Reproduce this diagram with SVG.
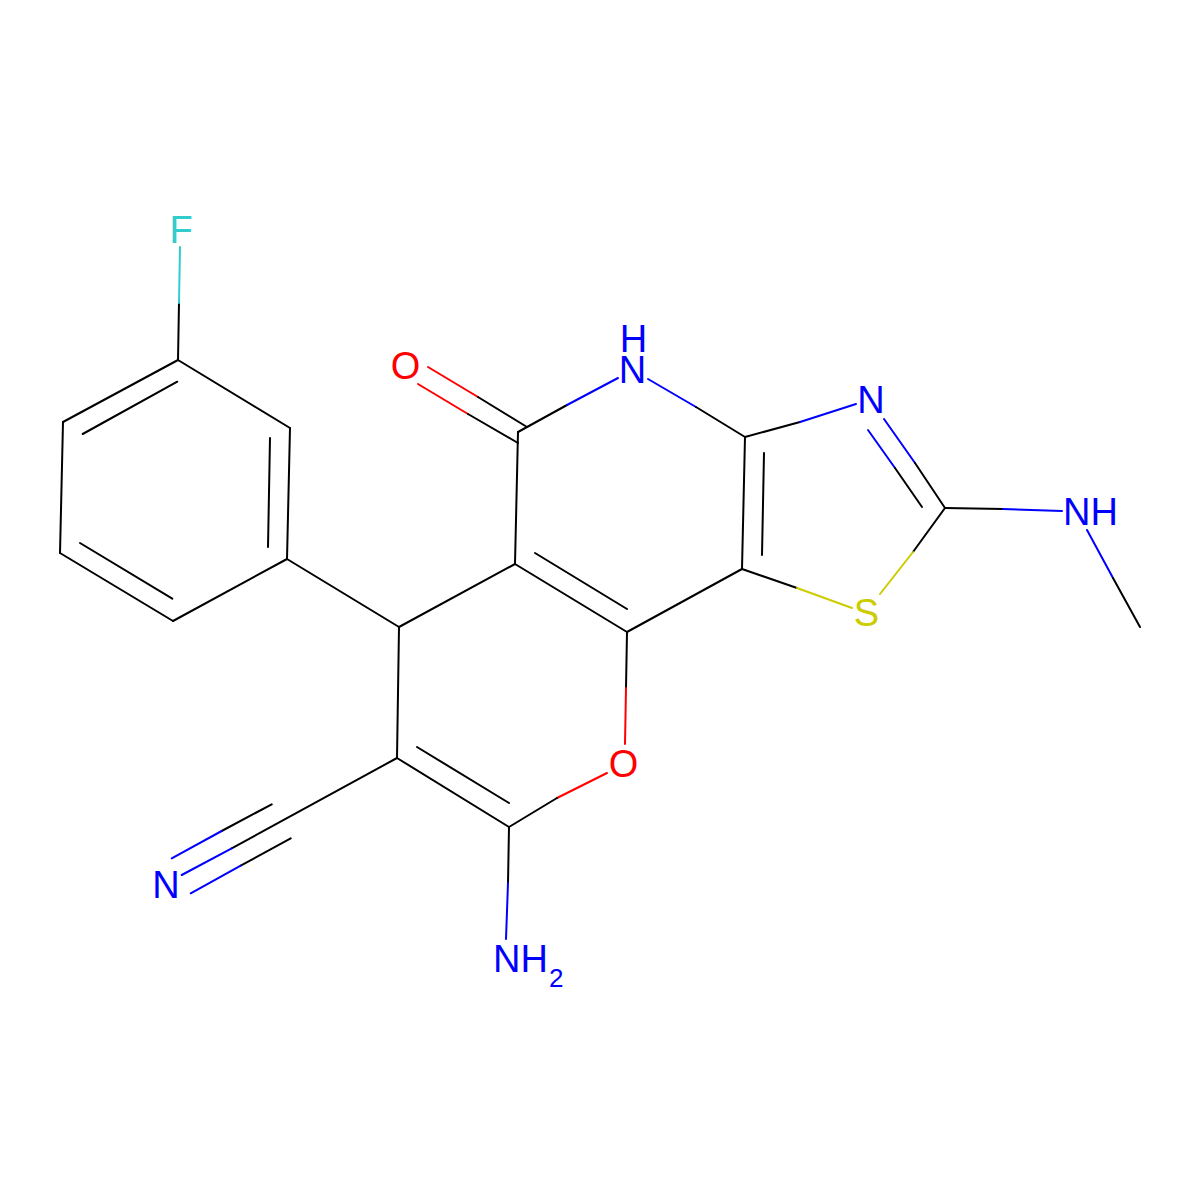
<svg xmlns="http://www.w3.org/2000/svg" width="1200" height="1200" viewBox="0 0 1200 1200">
<style>
line{stroke-width:2;stroke-linecap:round}
.k{stroke:#000}
.n{stroke:#0000FF}
.o{stroke:#FF0000}
.s{stroke:#CCCC00}
.f{stroke:#33CCCC}
text{font-family:"Liberation Sans",Arial,sans-serif;font-size:38px}
.tn{fill:#0000FF}
.to{fill:#FF0000}
.ts{fill:#CCCC00}
.tf{fill:#33CCCC}
</style>
<rect width="1200" height="1200" fill="#fff"/>
<g id="bonds">
<line class="k" x1="178" y1="360" x2="63" y2="422"/>
<line class="k" x1="63" y1="422" x2="60" y2="553"/>
<line class="k" x1="60" y1="553" x2="173" y2="621"/>
<line class="k" x1="173" y1="621" x2="287" y2="559"/>
<line class="k" x1="287" y1="559" x2="290" y2="428"/>
<line class="k" x1="290" y1="428" x2="178" y2="360"/>
<line class="k" x1="82.7" y1="434" x2="177.3" y2="381.7"/>
<line class="k" x1="270" y1="438" x2="268" y2="547"/>
<line class="k" x1="80" y1="543" x2="172.3" y2="598.7"/>
<line class="k" x1="178" y1="360" x2="179" y2="303"/>
<line class="f" x1="179" y1="303" x2="180" y2="247"/>
<line class="k" x1="287" y1="559" x2="399" y2="627"/>
<line class="k" x1="399" y1="627" x2="515" y2="564"/>
<line class="k" x1="399" y1="627" x2="397" y2="758"/>
<line class="k" x1="515" y1="564" x2="518" y2="432"/>
<line class="o" x1="428" y1="367" x2="478" y2="397"/>
<line class="k" x1="478" y1="397" x2="527" y2="427"/>
<line class="o" x1="418" y1="384" x2="468" y2="414"/>
<line class="k" x1="468" y1="414" x2="518" y2="443"/>
<line class="k" x1="518" y1="432" x2="567" y2="405"/>
<line class="n" x1="567" y1="405" x2="618" y2="378"/>
<line class="n" x1="648" y1="379" x2="696" y2="407"/>
<line class="k" x1="696" y1="407" x2="745" y2="437"/>
<line class="k" x1="745" y1="437" x2="742" y2="569"/>
<line class="k" x1="764" y1="453" x2="762" y2="555"/>
<line class="k" x1="745" y1="437" x2="800" y2="422"/>
<line class="n" x1="800" y1="422" x2="856" y2="404"/>
<line class="n" x1="884" y1="419" x2="915" y2="463"/>
<line class="k" x1="915" y1="463" x2="945" y2="508"/>
<line class="n" x1="868" y1="430" x2="895" y2="468"/>
<line class="k" x1="895" y1="468" x2="922" y2="507"/>
<line class="k" x1="945" y1="508" x2="1003" y2="509"/>
<line class="n" x1="1003" y1="509" x2="1062" y2="511"/>
<line class="n" x1="1087" y1="530" x2="1113" y2="578"/>
<line class="k" x1="1113" y1="578" x2="1140" y2="627"/>
<line class="k" x1="945" y1="508" x2="913" y2="552"/>
<line class="s" x1="913" y1="552" x2="880" y2="594"/>
<line class="k" x1="742" y1="569" x2="797" y2="588"/>
<line class="s" x1="797" y1="588" x2="852" y2="608"/>
<line class="k" x1="742" y1="569" x2="627" y2="632"/>
<line class="k" x1="515" y1="564" x2="627" y2="632"/>
<line class="k" x1="535" y1="553" x2="627" y2="609"/>
<line class="k" x1="627" y1="632" x2="626" y2="688"/>
<line class="o" x1="626" y1="688" x2="625" y2="744"/>
<line class="o" x1="607" y1="773" x2="557" y2="798"/>
<line class="k" x1="557" y1="798" x2="509" y2="827"/>
<line class="k" x1="397" y1="758" x2="509" y2="827"/>
<line class="k" x1="417" y1="747" x2="509" y2="803"/>
<line class="k" x1="509" y1="827" x2="508" y2="883"/>
<line class="n" x1="508" y1="883" x2="506" y2="939"/>
<line class="k" x1="397" y1="758" x2="231.7" y2="848.3"/>
<line class="n" x1="231.7" y1="848.3" x2="181.7" y2="875"/>
<line class="k" x1="271.7" y1="804.3" x2="221.7" y2="831"/>
<line class="n" x1="221.7" y1="831" x2="171.7" y2="858.3"/>
<line class="k" x1="290.7" y1="838.3" x2="240.7" y2="865.7"/>
<line class="n" x1="240.7" y1="865.7" x2="190.7" y2="893.3"/>
</g>
<g id="atom-F"><text class="tf" x="181" y="243" text-anchor="middle">F</text></g>
<g id="atom-O-carbonyl"><text class="to" x="405.5" y="379" text-anchor="middle">O</text></g>
<g id="atom-NH-ring"><text class="tn" text-anchor="middle"><tspan x="633.5" y="352">H</tspan><tspan x="632.5" y="383">N</tspan></text></g>
<g id="atom-N-thiazole"><text class="tn" x="871" y="413" text-anchor="middle">N</text></g>
<g id="atom-NH-methyl"><text class="tn" x="1063" y="525">NH</text></g>
<g id="atom-S"><text class="ts" x="866.5" y="626" text-anchor="middle">S</text></g>
<g id="atom-O-ring"><text class="to" x="623.5" y="777" text-anchor="middle">O</text></g>
<g id="atom-N-nitrile"><text class="tn" x="166" y="898" text-anchor="middle">N</text></g>
<g id="atom-NH2"><text class="tn" x="493" y="972">NH</text><text class="tn" x="549" y="987" style="font-size:26px">2</text></g>
</svg>
